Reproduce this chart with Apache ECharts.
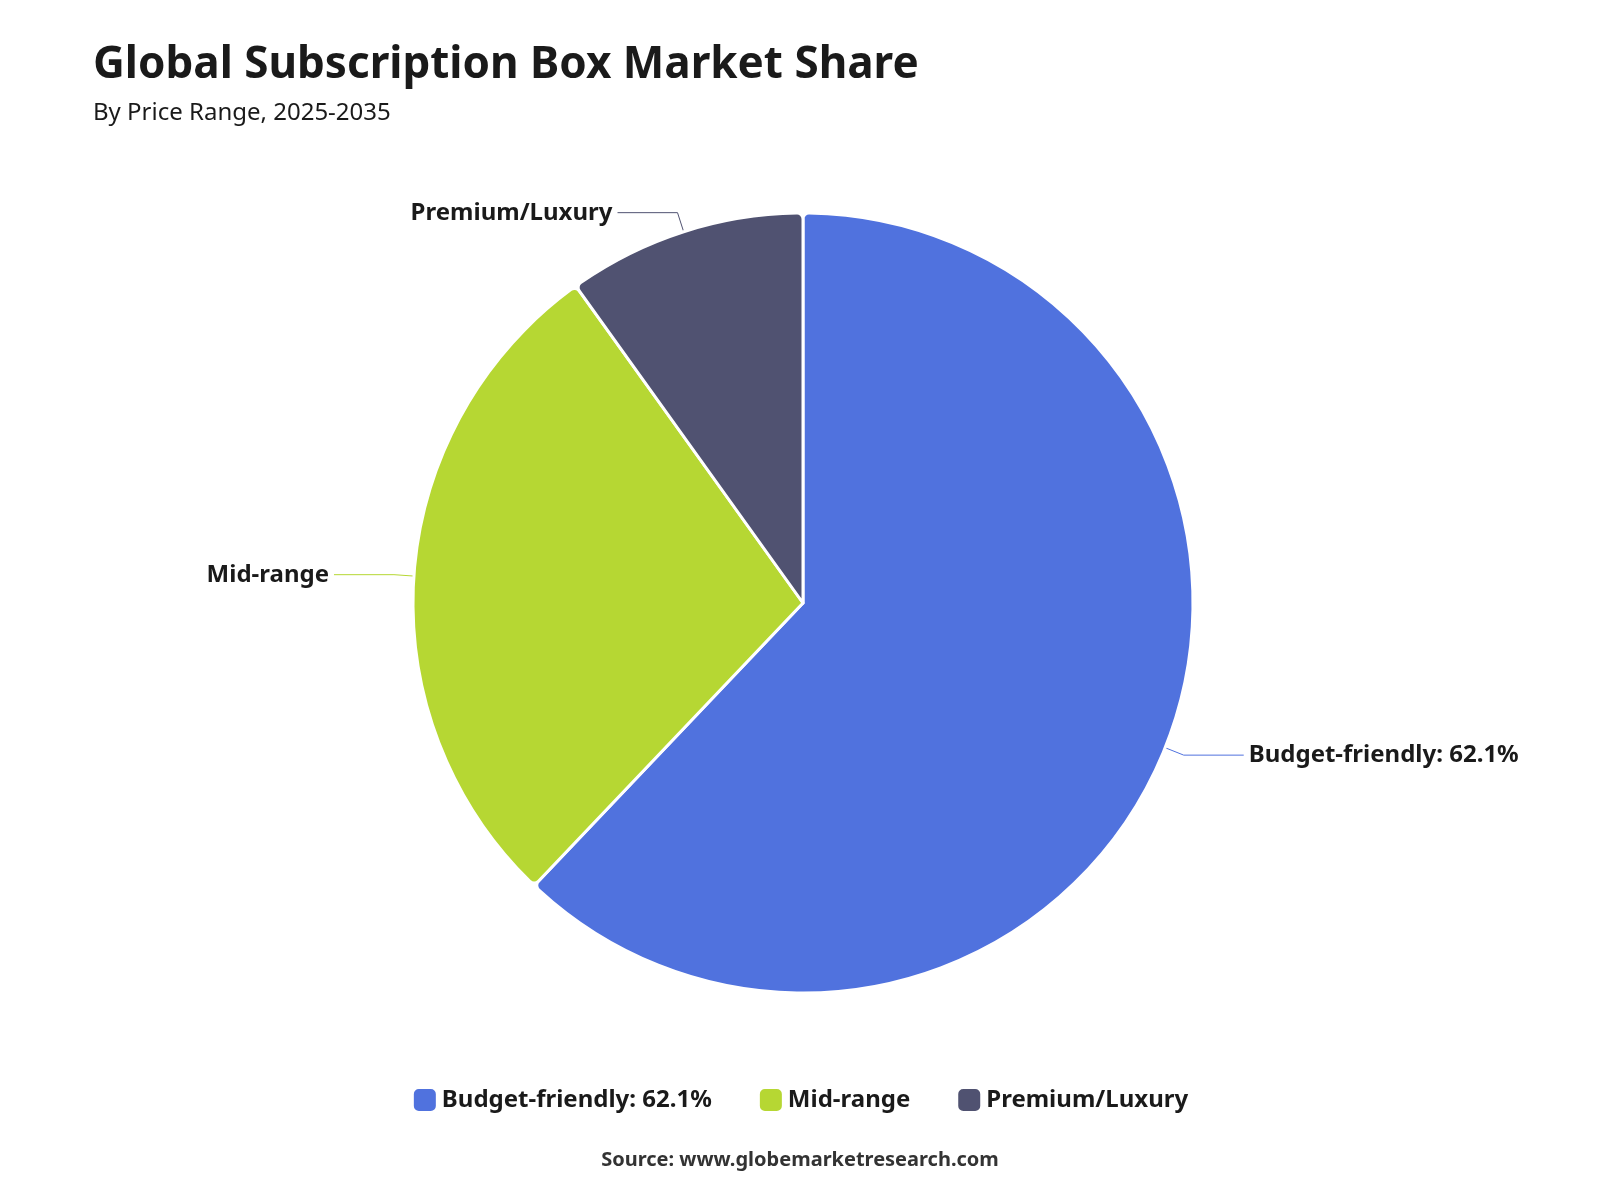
<!DOCTYPE html>
<html><head><meta charset="utf-8">
<script src="https://cdn.jsdelivr.net/npm/echarts@6/dist/echarts.min.js"></script>
<style>html,body{margin:0;padding:0;background:#fff}#c{width:1600px;height:1200px}</style>
</head><body><div id="c"></div>
<script>
const categories = ["Budget-friendly", "Mid-range", "Premium/Luxury"];
const values = [62.1, 28.0, 9.9];
const colors = ["#5072DE", "#B6D733", "#505271"];
const shownPct = [true, false, false];

function lab(name){
  const i = categories.indexOf(name);
  return shownPct[i] ? name + ": " + values[i].toFixed(1) + "%" : name;
}
const chart = echarts.init(document.getElementById('c'));
chart.setOption({
  animation:false,
  textStyle:{fontFamily:"Noto Sans"},
  title:{text:"Global Subscription Box Market Share",subtext:"By Price Range, 2025-2035",
    left:88,top:38,itemGap:14,
    textStyle:{fontSize:44,fontWeight:"bold",color:"#1a1a1a",fontFamily:"Noto Sans"},
    subtextStyle:{fontSize:24,color:"#1a1a1a",fontFamily:"Noto Sans"}},
  legend:{bottom:82,left:"center",itemWidth:24,itemHeight:24,itemGap:46,
    textStyle:{fontSize:24,fontWeight:"bold",color:"#1a1a1a"},
    formatter:lab, data:categories},
  graphic:[{type:"text",left:"center",bottom:30,style:{text:"Source: www.globemarketresearch.com",fontSize:20,fontWeight:"bold",fill:"#333",fontFamily:"Noto Sans"}}],
  series:[{type:"pie",center:[803,603],radius:[0,390],startAngle:90,clockwise:true,
    itemStyle:{borderColor:"#fff",borderWidth:3,borderRadius:6},
    label:{formatter:p=>lab(p.name),fontSize:24,fontWeight:"bold",color:"#1a1a1a"},
    labelLine:{length:20,length2:60},
    data:categories.map((n,i)=>({name:n,value:values[i],itemStyle:{color:colors[i]}}))
  }]
});
</script></body></html>
